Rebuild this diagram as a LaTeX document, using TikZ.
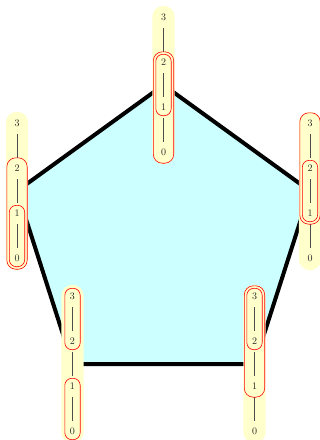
\documentclass[tikz,border=0pt]{standalone}
\usetikzlibrary{fit}
\definecolor{chainyellow}{RGB}{255,255,204}
\definecolor{pentcyan}{RGB}{204,255,255}
\pgfdeclarelayer{pent}
\pgfdeclarelayer{chainbg}
\pgfsetlayers{pent,chainbg,main}
\tikzset{
  digit/.style={minimum width=8pt, minimum height=9pt, inner sep=0pt, text=black!85, font=\normalsize},
  link/.style={draw=black!70, line width=0.7pt, shorten <=6pt, shorten >=6pt},
  yellowbg/.style={fill=chainyellow, draw=none, rounded corners=11pt, inner sep=7pt},
  outerring/.style={draw=red, line width=0.6pt, rounded corners=9pt, inner sep=6pt},
  innerring/.style={draw=red, line width=0.6pt, rounded corners=7pt, inner sep=3.5pt},
  pentagon/.style={fill=pentcyan, draw=black, line width=4pt, line join=round},
}
\newcommand{\mychain}[2]{%
  \coordinate (#1c) at (#2);
  \node[digit] (#13) at ([yshift=67.5pt]#1c) {3};
  \node[digit] (#12) at ([yshift=22.5pt]#1c) {2};
  \node[digit] (#11) at ([yshift=-22.5pt]#1c) {1};
  \node[digit] (#10) at ([yshift=-67.5pt]#1c) {0};
  \draw[link] (#13) -- (#12);
  \draw[link] (#12) -- (#11);
  \draw[link] (#11) -- (#10);
  \begin{pgfonlayer}{chainbg}
    \node[yellowbg, fit=(#13)(#10)] (#1bg) {};
  \end{pgfonlayer}
}
\begin{document}
\begin{tikzpicture}[x=1pt,y=-1pt]
  \useasboundingbox (0,0) rectangle (320,440);
  \mychain{t}{163.5,85}
  \mychain{r}{310,191}
  \mychain{br}{254.5,364}
  \mychain{bl}{72.5,364}
  \mychain{l}{17,191}
  \begin{pgfonlayer}{pent}
    \draw[pentagon] (tc) -- (rc) -- (brc) -- (blc) -- (lc) -- cycle;
  \end{pgfonlayer}
  % top chain
  \node[outerring, fit=(t2)(t0)] (tA) {};
  \node[innerring, fit=(t2)(t1)] (tB) {};
  % left chain
  \node[outerring, fit=(l2)(l0)] (lA) {};
  \node[innerring, fit=(l1)(l0)] (lB) {};
  % right chain
  \node[outerring, fit=(r3)(r1)] (rA) {};
  \node[innerring, fit=(r2)(r1)] (rB) {};
  % bottom-left chain
  \node[innerring, fit=(bl3)(bl2)] (blA) {};
  \node[innerring, fit=(bl1)(bl0)] (blB) {};
  % bottom-right chain
  \node[outerring, fit=(br3)(br1)] (brA) {};
  \node[innerring, fit=(br3)(br2)] (brB) {};
\end{tikzpicture}
\end{document}
